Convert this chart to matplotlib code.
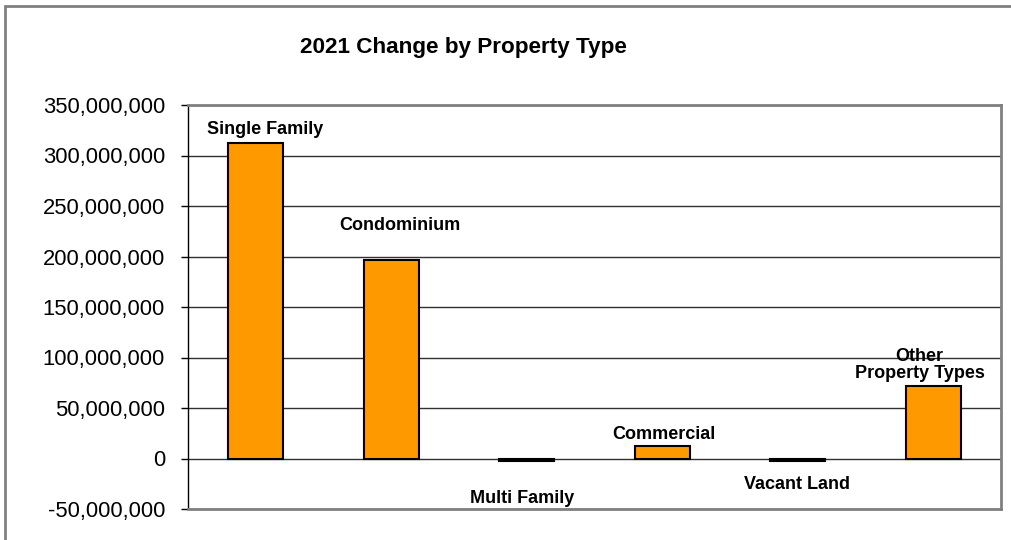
import matplotlib
matplotlib.use("Agg")
import matplotlib.pyplot as plt
from matplotlib.ticker import FuncFormatter
from matplotlib.patches import Rectangle

categories = ["Single Family", "Condominium", "Multi Family", "Commercial", "Vacant Land", "Other\nProperty Types"]
values = [312_000_000, 196_500_000, -2_300_000, 12_700_000, -2_600_000, 72_000_000]
yticks = [-50_000_000, 0, 50_000_000, 100_000_000, 150_000_000, 200_000_000, 250_000_000, 300_000_000, 350_000_000]

# label placement (layout only): (x position in category units, y position in data units)
label_pos = [(0.07, 326e6), (1.065, 231e6), (1.965, -40e6), (3.013, 24e6), (3.995, -26e6), (4.9, 93e6)]

plt.rcParams['font.family'] = ['Liberation Sans', 'DejaVu Sans']

fig = plt.figure(figsize=(10.11, 5.4), dpi=100)
ax = fig.add_axes([188/1011, 1-509/540, (1001-188)/1011, (509-105)/540])

x = list(range(len(categories)))
ax.bar(x, values, width=0.405, color="#FF9900", edgecolor="black", linewidth=1.5, zorder=3)

ax.set_xlim(-0.5, len(categories) - 0.5)
ax.set_ylim(-50_000_000, 350_000_000)
ax.set_yticks(yticks)
ax.yaxis.set_major_formatter(FuncFormatter(lambda v, p: f"{int(v):,}"))
ax.tick_params(axis='y', labelsize=15.8, length=5, width=1, direction='out', pad=11.5, colors='black')
ax.set_xticks([])

ax.grid(axis='y', color='#303030', linewidth=1, zorder=0)
ax.set_axisbelow(True)

for side in ['top', 'right', 'bottom']:
    ax.spines[side].set_color('#808080')
    ax.spines[side].set_linewidth(2)
ax.spines['left'].set_color('black')
ax.spines['left'].set_linewidth(1)

for (lx, ly), lab in zip(label_pos, categories):
    ax.text(lx, ly, lab, ha='center', va='center', fontsize=13, fontweight='bold', linespacing=1.0, zorder=4)

fig.text(463/1011, 1-47/540, "2021 Change by Property Type", ha='center', va='center',
         fontsize=16.2, fontweight='bold')

# outer chart border
fig.patches.append(Rectangle((5/1011, -0.1), 1.2, 1 - 6/540 + 0.1, transform=fig.transFigure,
                             fill=False, edgecolor='#808080', linewidth=2))

fig.savefig("out.png", dpi=100)
